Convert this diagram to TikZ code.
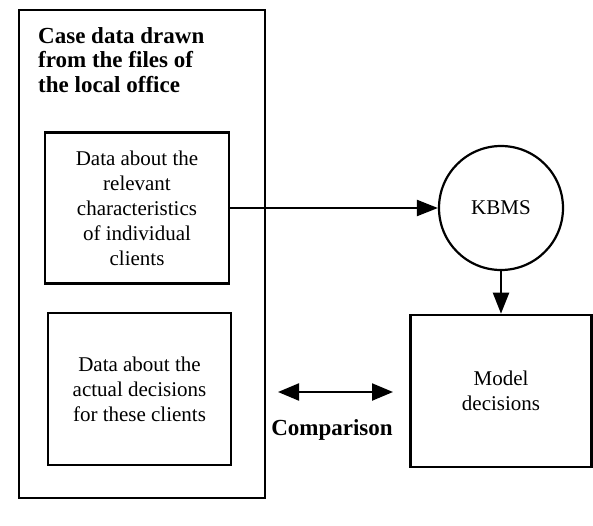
\documentclass[tikz,border=0pt]{standalone}
\usepackage{fontspec}
\setmainfont{Liberation Serif}
\usetikzlibrary{arrows.meta}
\begin{document}
\begin{tikzpicture}[x=1pt,y=-1pt,
  box/.style={draw,line width=2.6pt,rectangle,inner sep=0pt,align=center,
    font=\fontsize{21}{25}\selectfont},
  conn/.style={line width=2.2pt,-{Triangle[length=21pt,width=16pt]}},
  boldtxt/.style={font=\fontsize{23}{24.5}\selectfont\bfseries,inner sep=0pt}]
\useasboundingbox (0,0) rectangle (593,525);
\fill[white] (0,0) rectangle (593,525);
\node[box,minimum width=246pt,minimum height=488pt] (case) at (142,254) {};
\node[boldtxt,anchor=north west,align=left] (title) at (38,27)
  {Case data drawn\\from the files of\\the local office};
\node[box,minimum width=184pt,minimum height=151pt] (chars) at (137,208)
  {Data about the\\relevant\\characteristics\\of individual\\clients};
\node[box,minimum width=183pt,minimum height=152pt] (actual) at (139.5,389)
  {Data about the\\actual decisions\\for these clients};
\node[draw,circle,line width=2.2pt,minimum size=124pt,inner sep=0pt,
  font=\fontsize{21}{25}\selectfont] (kbms) at (501,208) {KBMS};
\node[box,minimum width=181pt,minimum height=152pt] (model) at (501,391)
  {Model\\decisions};
\coordinate (cl) at (278,392);
\coordinate (cr) at (393,392);
\node[boldtxt] (comp) at (332,430) {Comparison};
\draw[conn] (chars.east) -- (kbms.west);
\draw[conn] (kbms.south) -- (model.north);
\draw[line width=2.2pt,{Triangle[length=21pt,width=17pt]}-{Triangle[length=21pt,width=17pt]}] (cl) -- (cr);
\end{tikzpicture}
\end{document}
